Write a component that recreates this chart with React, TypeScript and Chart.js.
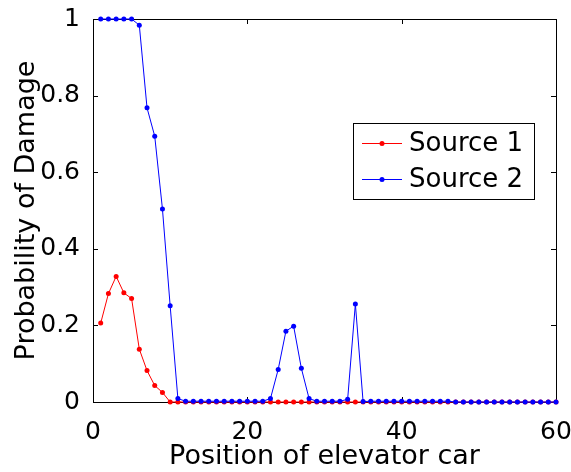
import React, { useEffect, useRef } from "react";
import { Chart, registerables } from "chart.js";

Chart.register(...registerables);

// Car positions along the shaft
const positions = [
  1, 2, 3, 4, 5, 6, 7, 8, 9, 10,
  11, 12, 13, 14, 15, 16, 17, 18, 19, 20,
  21, 22, 23, 24, 25, 26, 27, 28, 29, 30,
  31, 32, 33, 34, 35, 36, 37, 38, 39, 40,
  41, 42, 43, 44, 45, 46, 47, 48, 49, 50,
  51, 52, 53, 54, 55, 56, 57, 58, 59, 60,
];

// Probability of damage for each source
const source1 = [
  0.206, 0.283, 0.328, 0.285, 0.270, 0.138, 0.082, 0.043, 0.025, 0.0,
  0.0, 0.0, 0.0, 0.0, 0.0, 0.0, 0.0, 0.0, 0.0, 0.0,
  0.0, 0.0, 0.0, 0.0, 0.0, 0.0, 0.0, 0.0, 0.0, 0.0,
  0.0, 0.0, 0.0, 0.0, 0.0, 0.0, 0.0, 0.0, 0.0, 0.0,
  0.0, 0.0, 0.0, 0.0, 0.0, 0.0, 0.0, 0.0, 0.0, 0.0,
  0.0, 0.0, 0.0, 0.0, 0.0, 0.0, 0.0, 0.0, 0.0, 0.0,
];

const source2 = [
  1.0, 1.0, 1.0, 1.0, 1.0, 0.984, 0.768, 0.694, 0.504, 0.251,
  0.009, 0.002, 0.002, 0.002, 0.002, 0.002, 0.002, 0.002, 0.002, 0.002,
  0.002, 0.002, 0.009, 0.085, 0.185, 0.198, 0.088, 0.009, 0.002, 0.002,
  0.002, 0.002, 0.007, 0.256, 0.001, 0.002, 0.002, 0.002, 0.002, 0.002,
  0.002, 0.002, 0.002, 0.002, 0.002, 0.002, 0.0, 0.0, 0.0, 0.0,
  0.0, 0.0, 0.0, 0.0, 0.0, 0.0, 0.0, 0.0, 0.0, 0.0,
];

const seriesNames = ["Source 1", "Source 2"];
const seriesColors = ["#ff0000", "#0000ff"];

const xTickValues = [0, 20, 40, 60];
const yTickValues = [0, 0.2, 0.4, 0.6, 0.8, 1];

const xTitle = "Position of elevator car";
const yTitle = "Probability of Damage";

const FONT = "'DejaVu Sans', sans-serif";

// Box around the plot with inward tick marks on all four sides
const boxPlugin = {
  id: "axesBox",
  beforeDatasetsDraw(chart: any) {
    const { ctx, chartArea, scales } = chart;
    const { left, right, top, bottom } = chartArea;
    const tl = 5;
    ctx.save();
    ctx.strokeStyle = "#000";
    ctx.lineWidth = 1;
    ctx.beginPath();
    ctx.rect(Math.round(left) + 0.5, Math.round(top) + 0.5, Math.round(right - left), Math.round(bottom - top));
    for (const v of xTickValues) {
      const px = Math.round(scales.x.getPixelForValue(v)) + 0.5;
      ctx.moveTo(px, bottom);
      ctx.lineTo(px, bottom - tl);
      ctx.moveTo(px, top);
      ctx.lineTo(px, top + tl);
    }
    for (const v of yTickValues) {
      const py = Math.round(scales.y.getPixelForValue(v)) + 0.5;
      ctx.moveTo(left, py);
      ctx.lineTo(left + tl, py);
      ctx.moveTo(right, py);
      ctx.lineTo(right - tl, py);
    }
    ctx.stroke();
    ctx.restore();
  },
};

// Legend box drawn inside the plot, upper right
const legendPlugin = {
  id: "boxLegend",
  afterDraw(chart: any) {
    const { ctx, chartArea } = chart;
    const x0 = chartArea.right - 203;
    const y0 = chartArea.top + 104;
    const w = 181;
    const h = 76;
    ctx.save();
    ctx.fillStyle = "#fff";
    ctx.fillRect(x0, y0, w, h);
    ctx.strokeStyle = "#000";
    ctx.lineWidth = 1;
    ctx.strokeRect(x0 + 0.5, y0 + 0.5, w, h);
    ctx.font = `26px ${FONT}`;
    ctx.textBaseline = "middle";
    ctx.textAlign = "left";
    seriesNames.forEach((name, i) => {
      const cy = y0 + 20.5 + i * 36;
      ctx.strokeStyle = seriesColors[i];
      ctx.beginPath();
      ctx.moveTo(x0 + 9, cy);
      ctx.lineTo(x0 + 49, cy);
      ctx.stroke();
      ctx.fillStyle = seriesColors[i];
      ctx.beginPath();
      ctx.arc(x0 + 29, cy, 2.5, 0, Math.PI * 2);
      ctx.fill();
      ctx.fillStyle = "#000";
      ctx.fillText(name, x0 + 56, cy + 1);
    });
    ctx.restore();
  },
};

export default function App() {
  const canvasRef = useRef<HTMLCanvasElement | null>(null);

  useEffect(() => {
    const canvas = canvasRef.current;
    if (!canvas) return;
    const chart = new Chart(canvas, {
      type: "line",
      data: {
        datasets: [source1, source2].map((vals, i) => ({
          label: seriesNames[i],
          data: positions.map((p, j) => ({ x: p, y: vals[j] })),
          borderColor: seriesColors[i],
          backgroundColor: seriesColors[i],
          borderWidth: 1,
          pointRadius: 2.5,
          pointBorderWidth: 0,
          pointHoverRadius: 2.5,
          tension: 0,
          clip: false as any,
          order: i === 0 ? 2 : 1,
        })),
      },
      options: {
        animation: false,
        responsive: false,
        events: [],
        layout: { padding: { top: 19, right: 15, left: 0, bottom: 0 } },
        plugins: {
          legend: { display: false },
          tooltip: { enabled: false },
        },
        scales: {
          x: {
            type: "linear",
            min: 0,
            max: 60,
            grid: { display: false },
            border: { display: false },
            afterBuildTicks: (s: any) => {
              s.ticks = xTickValues.map((v) => ({ value: v }));
            },
            afterFit: (s: any) => {
              s.height = 70;
              s.paddingLeft = 0;
              s.paddingRight = 0;
            },
            ticks: {
              color: "#000",
              font: { family: FONT, size: 25 },
              padding: 7,
              maxRotation: 0,
              callback: (v: any) => String(v),
            },
            title: {
              display: true,
              text: xTitle,
              color: "#000",
              font: { family: FONT, size: 27 },
              padding: { top: 0, bottom: -1 },
            },
          },
          y: {
            type: "linear",
            min: 0,
            max: 1,
            grid: { display: false },
            border: { display: false },
            afterBuildTicks: (s: any) => {
              s.ticks = yTickValues.map((v) => ({ value: v }));
            },
            afterFit: (s: any) => {
              s.width = 93;
              s.paddingTop = 0;
              s.paddingBottom = 0;
            },
            ticks: {
              color: "#000",
              font: { family: FONT, size: 25 },
              padding: 5,
              callback: (v: any) => String(v),
            },
            title: {
              display: true,
              text: yTitle,
              color: "#000",
              font: { family: FONT, size: 27 },
              padding: { top: 11, bottom: 0 },
            },
          },
        },
      },
      plugins: [boxPlugin, legendPlugin],
    });
    return () => chart.destroy();
  }, []);

  return (
    <div style={{ position: "fixed", left: 0, top: 0, width: 571, height: 472, background: "#fff" }}>
      <canvas ref={canvasRef} width={571} height={472} style={{ display: "block" }} />
    </div>
  );
}
